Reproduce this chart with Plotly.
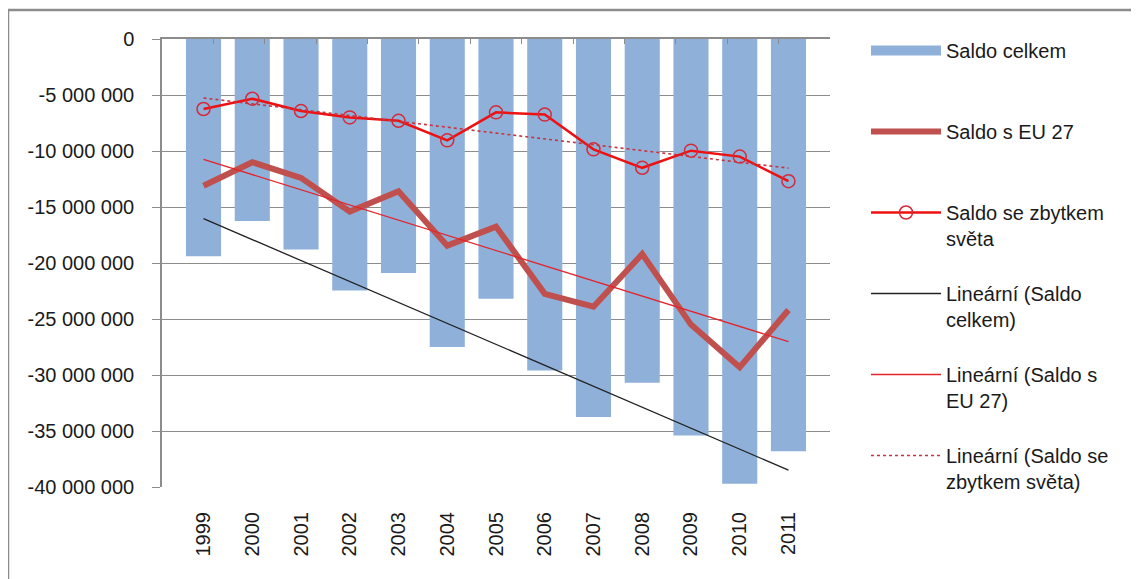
import numpy as np
import plotly.graph_objects as go

# years and values
years = ["1999", "2000", "2001", "2002", "2003", "2004", "2005",
         "2006", "2007", "2008", "2009", "2010", "2011"]
saldo_celkem = [-19400000, -16250000, -18800000, -22450000, -20900000, -27500000, -23200000,
                -29600000, -33750000, -30700000, -35400000, -39700000, -36800000]
saldo_eu27 = [-13100000, -11000000, -12400000, -15400000, -13600000, -18450000, -16750000,
              -22750000, -23900000, -19200000, -25500000, -29300000, -24200000]
saldo_svet = [-6250000, -5330000, -6430000, -7000000, -7300000, -9050000, -6550000,
              -6750000, -9850000, -11500000, -9970000, -10500000, -12700000]

y_ticks = [0, -5000000, -10000000, -15000000, -20000000, -25000000,
           -30000000, -35000000, -40000000]
y_labels = ["0", "-5 000 000", "-10 000 000", "-15 000 000", "-20 000 000",
            "-25 000 000", "-30 000 000", "-35 000 000", "-40 000 000"]


# linear trendline like Excel
def trend(values):
    idx = np.arange(len(values))
    k, q = np.polyfit(idx, values, 1)
    return list(k * idx + q)


FONT = "Liberation Sans, Arial, sans-serif"
TXT = "#1a1a1a"
GRID = "#8c8c8c"
BAR = "#8fb1d9"

# the page adds an 8px body margin, so the figure is drawn 8px smaller
W, H = 1131, 571
L, T, PW, PH = 154, 31, 668, 448


def px_x(p):
    return (p - L) / PW


def px_y(p):
    return 1 - (p - T) / PH


fig = go.Figure()

fig.add_trace(go.Bar(x=years, y=saldo_celkem, name="Saldo celkem",
                     marker=dict(color=BAR, line=dict(width=0)),
                     showlegend=False))
# legend entry for the bars drawn as a wide band
fig.add_trace(go.Scatter(x=[None], y=[None], name="Saldo celkem<br> ", mode="lines",
                         line=dict(color=BAR, width=10), legendgroup="a"))
fig.add_trace(go.Scatter(x=years, y=saldo_eu27, name="Saldo s EU 27<br> ", mode="lines",
                         line=dict(color="#c0504d", width=6), legendgroup="b"))
fig.add_trace(go.Scatter(x=years, y=saldo_svet, name="Saldo se zbytkem<br>světa",
                         mode="lines+markers",
                         line=dict(color="#ee1111", width=2.5),
                         marker=dict(symbol="circle-open", size=13, color="#d42a3a",
                                     line=dict(width=1.5)),
                         legendgroup="c"))
fig.add_trace(go.Scatter(x=years, y=trend(saldo_celkem), name="Lineární (Saldo<br>celkem)",
                         mode="lines", line=dict(color="#222222", width=1.3),
                         legendgroup="d"))
fig.add_trace(go.Scatter(x=years, y=trend(saldo_eu27), name="Lineární (Saldo s<br>EU 27)",
                         mode="lines", line=dict(color="#e3242b", width=1.3),
                         legendgroup="e"))
fig.add_trace(go.Scatter(x=years, y=trend(saldo_svet), name="Lineární (Saldo se<br>zbytkem světa)",
                         mode="lines", line=dict(color="#c8333d", width=1.6, dash="dot"),
                         legendgroup="f"))

# hidden helper trace so the top axis line with boundary ticks is drawn
fig.add_trace(go.Scatter(x=[-0.5, 12.5], y=[0, 0], xaxis="x2", mode="lines",
                         line=dict(width=0), hoverinfo="skip", showlegend=False))

fig.update_layout(
    width=W, height=H,
    margin=dict(l=L, r=W - L - PW, t=T, b=H - T - PH),
    paper_bgcolor="white", plot_bgcolor="white",
    font=dict(family=FONT, size=20, color=TXT),
    bargap=0.28,
    showlegend=True,
    legend=dict(x=px_x(858), y=px_y(23), xanchor="left", yanchor="top",
                tracegroupgap=26, itemwidth=70, valign="top", maxheight=560,
                font=dict(family=FONT, size=20, color=TXT),
                bgcolor="rgba(0,0,0,0)"),
    xaxis=dict(type="category", tickangle=-90, ticks="", showline=False,
               showgrid=False, ticklabelstandoff=20,
               tickfont=dict(family=FONT, size=20, color=TXT)),
    xaxis2=dict(overlaying="x", side="top", range=[-0.5, 12.5],
                tickvals=[i - 0.5 for i in range(14)], ticks="inside", ticklen=5,
                tickcolor=GRID, showline=True, linecolor=GRID, linewidth=1.5,
                showticklabels=False, showgrid=False, zeroline=False),
    yaxis=dict(range=[-40000000, 0], tickvals=y_ticks, ticktext=y_labels,
               ticks="outside", ticklen=8, tickcolor=GRID, showline=True,
               linecolor=GRID, linewidth=1.5, gridcolor=GRID, gridwidth=1,
               zeroline=False, ticklabelstandoff=14,
               tickfont=dict(family=FONT, size=20, color=TXT)),
)

# outer chart border, partly outside the picture like in the original
fig.add_shape(type="rect", xref="paper", yref="paper",
              x0=px_x(0), x1=px_x(1160), y0=px_y(600), y1=px_y(2),
              line=dict(color="#8c8c8c", width=2.5), layer="below")

fig.write_html("out.html")
